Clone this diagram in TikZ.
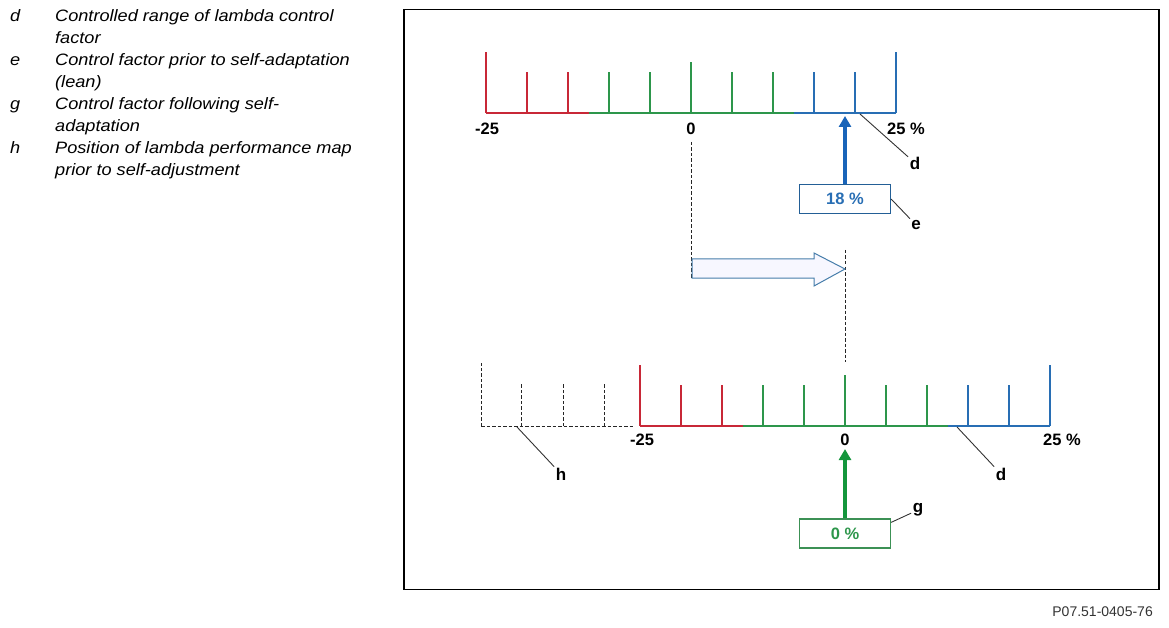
\documentclass[tikz,border=0pt]{standalone}
\usepackage{fontspec}
\setmainfont{Liberation Sans}
\newfontfamily\legendfont[FakeStretch=1.1]{Liberation Sans}
\usepackage{tikz}
\usetikzlibrary{arrows.meta,positioning,calc}
\definecolor{lamred}{RGB}{200,40,55}
\definecolor{lamgreen}{RGB}{45,150,75}
\definecolor{lamblue}{RGB}{40,110,180}
\definecolor{arrblue}{RGB}{25,100,185}
\definecolor{arrgreen}{RGB}{20,150,60}
\definecolor{boxblue}{RGB}{35,95,150}
\definecolor{boxgreen}{RGB}{60,145,85}
\definecolor{hollow}{RGB}{70,125,170}
\tikzset{
  redline/.style={draw=lamred,line width=1.5pt},
  greenline/.style={draw=lamgreen,line width=1.5pt},
  blueline/.style={draw=lamblue,line width=1.5pt},
  pics/lambdascale/.style={code={
    \draw[redline] (0,0) -- (102.5,0);
    \draw[greenline] (102.5,0) -- (307.5,0);
    \draw[blueline] (307.5,0) -- (410,0);
    \draw[redline] (0,0) -- (0,-61);
    \foreach \i in {1,2} \draw[redline] (\i*41,0) -- ++(0,-41);
    \foreach \i in {3,4,6,7} \draw[greenline] (\i*41,0) -- ++(0,-41);
    \draw[greenline] (205,0) -- (205,-51);
    \foreach \i in {8,9} \draw[blueline] (\i*41,0) -- ++(0,-41);
    \draw[blueline] (410,0) -- (410,-61);
    \coordinate (-left) at (0,0);
    \coordinate (-zero) at (205,0);
    \coordinate (-right) at (410,0);
  }}
}
\begin{document}
\begin{tikzpicture}[x=1pt,y=-1pt,
  legendkey/.style={font=\legendfont\itshape\fontsize{16.5}{22}\selectfont,inner sep=0pt,anchor=base west},
  legendtext/.style={font=\legendfont\itshape\fontsize{16.5}{22}\selectfont,inner sep=0pt,anchor=base west,align=left},
  lbl/.style={font=\bfseries\fontsize{16.5}{18}\selectfont,inner sep=1pt},
  letter/.style={font=\bfseries\fontsize{17}{18}\selectfont,inner sep=1.5pt},
  valbox/.style={minimum width=91pt,minimum height=29pt,line width=1.2pt,inner sep=0pt,font=\bfseries\fontsize{16.5}{18}\selectfont},
  leader/.style={draw=black!80,line width=0.9pt},
  guide/.style={draw=black!85,line width=1pt,dash pattern=on 3.5pt off 2pt},
  thickarrow/.style={line width=4pt,-{Triangle[length=11pt,width=12pt]}}]
\useasboundingbox (0,0) rectangle (1169,628);

% legend (base = last line)
\node[legendkey] (kd) at (10,22) {d};
\node[legendtext] (td) at (55,44) {Controlled range of lambda control\\factor};
\node[legendkey] (ke) at (10,66) {e};
\node[legendtext] (te) at (55,88) {Control factor prior to self-adaptation\\(lean)};
\node[legendkey] (kg) at (10,110) {g};
\node[legendtext] (tg) at (55,132) {Control factor following self-\\adaptation};
\node[legendkey] (kh) at (10,154) {h};
\node[legendtext] (th) at (55,176) {Position of lambda performance map\\prior to self-adjustment};

% frame
\draw[line width=1.2pt] (404,9.5) rectangle (1159,589.5);

% top scale (before adaptation)
\pic (top) at (486,113) {lambdascale};
\node[lbl] (tm25) at (487,129) {-25};
\node[lbl] (t0) at (691,129) {0};
\node[lbl] (t25) at (906,129) {25 \%};
\coordinate (dtop) at (860,114);
\node[letter] (ldtop) at (915,163) {d};
\draw[leader] (dtop) -- (ldtop);
\node[valbox,draw=boxblue,text=lamblue] (box18) at (845,199) {18 \%};
\draw[thickarrow,arrblue] (box18.north) -- (845,116);
\node[letter] (le) at (916,225) {e};
\draw[leader] (box18.east) -- (le);

% shift of the zero point
\coordinate (oldzero) at (691,142);
\coordinate (oldfoot) at (691,278);
\coordinate (newtop) at (845,250);
\coordinate (newfoot) at (845,362);
\draw[guide] (oldzero) -- (oldfoot);
\draw[guide] (newtop) -- (newfoot);
\draw[draw=hollow,fill=blue!3,line width=1pt,line join=miter]
  (692,259) -- (814,259) -- (814,253) -- (845,269) -- (814,286) -- (814,278) -- (692,278) -- cycle;

% former position of the map
\draw[guide] (481,426) -- (634,426);
\draw[guide] (481,426) -- (481,363);
\foreach \x in {521,563,604} \draw[guide] (\x,426) -- (\x,384);
\coordinate (hfoot) at (517,427);
\node[letter] (lh) at (561,474) {h};
\draw[leader] (hfoot) -- (lh);

% bottom scale (after adaptation)
\pic (bot) at (640,426) {lambdascale};
\node[lbl] (bm25) at (642,440) {-25};
\node[lbl] (b0) at (845,440) {0};
\node[lbl] (b25) at (1062,440) {25 \%};
\coordinate (dbot) at (957,427);
\node[letter] (ldbot) at (1001,474) {d};
\draw[leader] (dbot) -- (ldbot);
\node[valbox,draw=boxgreen,text=lamgreen] (box0) at (845,533.5) {0 \%};
\draw[thickarrow,arrgreen] (box0.north) -- ([yshift=-2pt]b0.south);
\node[letter] (lg) at (918,510) {g};
\draw[leader] ([yshift=-4pt]box0.north east) -- (lg);

% drawing number
\node[font=\fontsize{14}{16}\selectfont,text=black!80,anchor=east,inner sep=0pt] (pnr) at (1153,612) {P07.51-0405-76};
\end{tikzpicture}
\end{document}
